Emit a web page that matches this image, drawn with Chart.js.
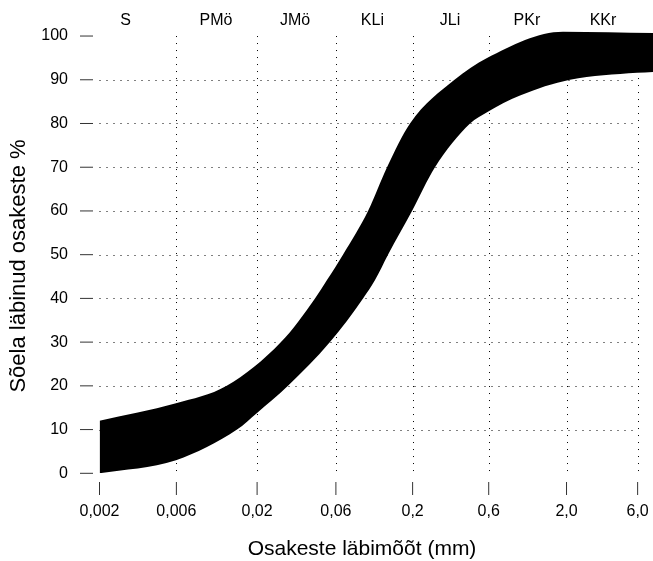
<!DOCTYPE html>
<html>
<head>
<meta charset="utf-8">
<script src="https://cdn.jsdelivr.net/npm/chart.js@4/dist/chart.umd.min.js"></script>
<style>
  html, body { margin: 0; padding: 0; background: #fff; }
  canvas { display: block; }
</style>
</head>
<body>
<canvas id="chart" width="653" height="561"></canvas>
<script>
// Particle size axis: tick labels (mm) and their positions along the axis
const sizeLabels = ['0,002', '0,006', '0,02', '0,06', '0,2', '0,6', '2,0', '6,0'];
const sizePos = [0, 1.0, 2.05, 3.075, 4.073, 5.063, 6.075, 7];

// Fraction names written along the top edge
const fractionLabels = ['S', 'PMö', 'JMö', 'KLi', 'JLi', 'PKr', 'KKr'];
const fractionPos = [0.34, 1.515, 2.545, 3.55, 4.56, 5.56, 6.55];

// Percent passing the sieve
const percentTicks = [0, 10, 20, 30, 40, 50, 60, 70, 80, 90, 100];

// Upper (fine-side) boundary of the grading envelope
const upperX = [0, 0.995, 1.655, 2.361, 2.803, 2.959, 3.167, 3.493, 3.740, 4.039, 4.618, 5.041, 6.029, 7.2];
const upperY = [12, 16, 20, 30, 40, 44.2, 50, 60, 70, 80, 90, 95, 101, 100.7];

// Lower (coarse-side) boundary of the grading envelope
const lowerX = [0, 0.995, 1.789, 2.049, 2.452, 2.998, 3.428, 3.584, 3.753, 4.065, 4.364, 4.82, 5.041, 5.47, 6.12, 6.992, 7.2];
const lowerY = [0, 3, 10, 13.8, 20, 30, 40, 44.2, 50, 60, 70, 80, 82.6, 86.4, 90, 91.6, 91.8];

const FONT = '"Liberation Sans", Arial, Helvetica, sans-serif';
const toPoints = (xs, ys) => xs.map((x, i) => ({ x: x, y: ys[i] }));

// Axis boxes keep exactly the size given to them
const fixBox = (scale) => {
  scale.paddingLeft = 0;
  scale.paddingRight = 0;
  scale.paddingTop = 0;
  scale.paddingBottom = 0;
};

// Dotted grid, outside tick marks and axis titles
const frame = {
  id: 'frame',
  beforeDatasetsDraw(chart) {
    const { ctx, scales: { x, y } } = chart;
    ctx.save();
    ctx.strokeStyle = '#000';
    ctx.lineWidth = 1;
    ctx.setLineDash([1, 6]);
    const x0 = x.getPixelForValue(sizePos[0]);
    const x1 = x.getPixelForValue(sizePos[sizePos.length - 1]);
    const yTop = y.getPixelForValue(100);
    const yBot = y.getPixelForValue(0);
    percentTicks.slice(1, -1).forEach(v => {
      const py = Math.round(y.getPixelForValue(v)) + 0.5;
      ctx.beginPath(); ctx.moveTo(x0, py); ctx.lineTo(x1, py); ctx.stroke();
    });
    sizePos.slice(1).forEach(v => {
      const px = Math.round(x.getPixelForValue(v)) + 0.5;
      ctx.beginPath(); ctx.moveTo(px, yTop); ctx.lineTo(px, yBot); ctx.stroke();
    });
    ctx.restore();
  },
  afterDraw(chart) {
    const { ctx, scales: { x, y } } = chart;
    ctx.save();
    ctx.strokeStyle = '#333';
    ctx.lineWidth = 1;
    percentTicks.forEach(v => {
      const py = y.getPixelForValue(v);
      ctx.beginPath(); ctx.moveTo(80, py); ctx.lineTo(93, py); ctx.stroke();
    });
    sizePos.forEach(v => {
      const px = x.getPixelForValue(v);
      ctx.beginPath(); ctx.moveTo(px, 482); ctx.lineTo(px, 495); ctx.stroke();
    });
    ctx.fillStyle = '#000';
    ctx.textAlign = 'center';
    ctx.textBaseline = 'middle';
    ctx.font = '21px ' + FONT;
    ctx.fillText('Osakeste läbimõõt (mm)', 362, 549);
    ctx.font = '22px ' + FONT;
    ctx.translate(19, 266);
    ctx.rotate(-Math.PI / 2);
    ctx.fillText('Sõela läbinud osakeste %', 0, 0);
    ctx.restore();
  }
};

new Chart(document.getElementById('chart'), {
  type: 'line',
  data: {
    datasets: [
      {
        label: 'upper',
        data: toPoints(upperX, upperY),
        borderWidth: 0,
        pointRadius: 0,
        backgroundColor: '#000',
        borderColor: '#000',
        cubicInterpolationMode: 'monotone',
        fill: '+1'
      },
      {
        label: 'lower',
        data: toPoints(lowerX, lowerY),
        borderWidth: 0,
        pointRadius: 0,
        backgroundColor: '#000',
        borderColor: '#000',
        cubicInterpolationMode: 'monotone',
        fill: false
      }
    ]
  },
  options: {
    responsive: false,
    animation: false,
    layout: { padding: 0 },
    plugins: { legend: { display: false }, tooltip: { enabled: false } },
    scales: {
      x: {
        type: 'linear',
        position: 'bottom',
        min: 0,
        max: 7.2,
        border: { display: false },
        grid: { display: false, drawTicks: false },
        afterFit(scale) { scale.height = 87.7; fixBox(scale); },
        afterBuildTicks(scale) { scale.ticks = sizePos.map(v => ({ value: v })); },
        ticks: {
          autoSkip: false,
          maxRotation: 0,
          padding: 28.5,
          color: '#000',
          font: { family: FONT, size: 16 },
          callback: (v, i) => sizeLabels[i]
        }
      },
      x2: {
        type: 'linear',
        position: 'top',
        min: 0,
        max: 7.2,
        border: { display: false },
        grid: { display: false, drawTicks: false },
        afterFit(scale) { scale.height = 27.3; fixBox(scale); },
        afterBuildTicks(scale) { scale.ticks = fractionPos.map(v => ({ value: v })); },
        ticks: {
          autoSkip: false,
          maxRotation: 0,
          padding: -2.5,
          color: '#000',
          font: { family: FONT, size: 16 },
          callback: (v, i) => fractionLabels[i]
        }
      },
      y: {
        type: 'linear',
        min: 0,
        max: 102,
        border: { display: false },
        grid: { display: false, drawTicks: false },
        afterFit(scale) { scale.width = 99.5; fixBox(scale); },
        afterBuildTicks(scale) { scale.ticks = percentTicks.map(v => ({ value: v })); },
        ticks: {
          padding: 31.5,
          color: '#000',
          font: { family: FONT, size: 16 },
          callback: v => String(v)
        }
      }
    }
  },
  plugins: [frame]
});
</script>
</body>
</html>
